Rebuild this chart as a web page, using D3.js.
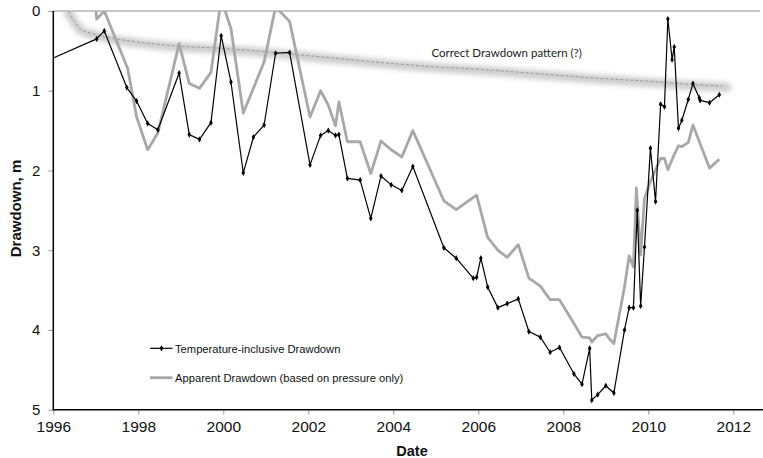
<!DOCTYPE html>
<html><head><meta charset="utf-8">
<script src="https://cdn.jsdelivr.net/npm/d3@7"></script>
<style>
html,body{margin:0;padding:0;background:#fff;}
svg{display:block;}
</style>
</head><body>
<svg id="chart" width="763" height="458"></svg>
<script>
// ---- data ----
const tempDates = [1996.0,1997.02,1997.2,1997.73,1997.96,1998.22,1998.46,1998.96,1999.2,1999.44,1999.71,1999.95,2000.18,2000.47,2000.71,2000.96,2001.23,2001.56,2002.04,2002.29,2002.47,2002.64,2002.72,2002.92,2003.22,2003.47,2003.71,2003.95,2004.2,2004.46,2005.19,2005.48,2005.88,2005.96,2006.06,2006.22,2006.46,2006.68,2006.94,2007.19,2007.46,2007.69,2007.91,2008.25,2008.44,2008.62,2008.67,2008.81,2009.0,2009.19,2009.44,2009.55,2009.65,2009.74,2009.82,2009.91,2010.05,2010.17,2010.29,2010.38,2010.46,2010.56,2010.61,2010.71,2010.79,2010.94,2011.05,2011.2,2011.22,2011.44,2011.67];
const tempValues = [0.59,0.35,0.25,0.96,1.13,1.41,1.49,0.78,1.55,1.61,1.40,0.31,0.89,2.03,1.58,1.43,0.53,0.52,1.93,1.56,1.50,1.56,1.55,2.10,2.12,2.60,2.07,2.18,2.25,1.95,2.97,3.10,3.35,3.34,3.10,3.46,3.72,3.67,3.61,4.02,4.09,4.28,4.22,4.55,4.68,4.23,4.88,4.81,4.70,4.79,4.00,3.72,3.72,2.50,3.70,2.96,1.72,2.39,1.17,1.20,0.10,0.61,0.45,1.47,1.37,1.11,0.91,1.09,1.12,1.15,1.05];

const apparentDates = [1996.96,1997.02,1997.2,1997.75,1997.96,1998.22,1998.46,1998.96,1999.2,1999.44,1999.71,1999.95,2000.18,2000.47,2000.96,2001.23,2001.56,2002.04,2002.29,2002.47,2002.64,2002.72,2002.92,2003.22,2003.47,2003.71,2003.95,2004.2,2004.46,2005.19,2005.48,2005.96,2006.22,2006.46,2006.68,2006.94,2007.19,2007.46,2007.69,2007.91,2008.25,2008.44,2008.62,2008.67,2008.81,2009.0,2009.1,2009.19,2009.44,2009.55,2009.65,2009.72,2009.82,2009.91,2010.05,2010.29,2010.38,2010.46,2010.61,2010.71,2010.79,2010.94,2011.05,2011.44,2011.67];
const apparentValues = [-0.3,0.10,0.0,0.72,1.33,1.74,1.53,0.41,0.91,0.97,0.77,-0.15,0.22,1.28,0.64,-0.05,0.13,1.33,1.00,1.18,1.44,1.14,1.64,1.64,2.04,1.63,1.74,1.83,1.50,2.38,2.49,2.31,2.84,3.00,3.09,2.93,3.35,3.45,3.62,3.62,3.92,4.09,4.10,4.15,4.07,4.05,4.12,4.17,3.46,3.07,3.21,2.22,3.06,2.35,2.14,1.85,1.85,1.99,1.80,1.69,1.70,1.65,1.43,1.97,1.86];

const correctDates = [1996.35,1996.5,1996.65,1996.9,1997.2,1998,1999,2000,2001,2002,2003,2004,2005,2006,2007,2008,2009,2010,2011,2011.73];
const correctValues = [0,0.13,0.23,0.28,0.32,0.39,0.44,0.47,0.51,0.56,0.61,0.66,0.70,0.73,0.77,0.81,0.85,0.88,0.92,0.94];

const xTicks = [1996,1998,2000,2002,2004,2006,2008,2010,2012];
const yTicks = [0,1,2,3,4,5];
const legendLabels = ["Temperature-inclusive Drawdown","Apparent Drawdown (based on pressure only)"];
const annotation = "Correct Drawdown pattern (?)";

// ---- drawing ----
const svg = d3.select("#chart");
const pL = 53.3, pR = 760, pT = 11, pB = 409.7;
const x = d3.scaleLinear().domain([1996, 2012]).range([53.3, 733.3]);
const y = d3.scaleLinear().domain([0, 5]).range([pT, pB]);

const defs = svg.append("defs");
defs.append("clipPath").attr("id","plotclip").append("rect")
  .attr("x", pL).attr("y", pT).attr("width", pR-pL).attr("height", pB-pT);
const blur = defs.append("filter").attr("id","blur").attr("x","-10%").attr("y","-200%").attr("width","120%").attr("height","500%");
blur.append("feGaussianBlur").attr("stdDeviation", 2.6);

// top border
svg.append("line").attr("x1", pL).attr("x2", pR).attr("y1", pT).attr("y2", pT)
  .attr("stroke", "#8c8c8c").attr("stroke-width", 1);

const g = svg.append("g").attr("clip-path","url(#plotclip)");

const correctData = correctDates.map((d,i)=>[d, correctValues[i]]);
const tempData = tempDates.map((d,i)=>[d, tempValues[i]]);
const appData = apparentDates.map((d,i)=>[d, apparentValues[i]]);

const smooth = d3.line().x(d=>x(d[0])).y(d=>y(d[1])).curve(d3.curveMonotoneX);
const straight = d3.line().x(d=>x(d[0])).y(d=>y(d[1]));

// shadow band
g.append("path").attr("d", smooth(correctData.concat([[2011.85,0.945]])))
  .attr("fill","none").attr("stroke","#c4c4c4").attr("stroke-width",9)
  .attr("stroke-linecap","round").attr("filter","url(#blur)").attr("opacity",0.85)
  .attr("transform","translate(0,1)");
g.append("path").attr("d", smooth(correctData))
  .attr("fill","none").attr("stroke","#9a9a9a").attr("stroke-width",1)
  .attr("stroke-dasharray","3,2");

// apparent (gray)
g.append("path").attr("d", straight(appData))
  .attr("fill","none").attr("stroke","#a8a8a8").attr("stroke-width",2.8)
  .attr("stroke-linejoin","round");

// temperature-inclusive (black)
g.append("path").attr("d", straight(tempData))
  .attr("fill","none").attr("stroke","#000").attr("stroke-width",1.2)
  .attr("stroke-linejoin","round");
const diamond = d3.symbol().type(d3.symbolDiamond).size(11);
g.selectAll("path.mk").data(tempData.slice(1)).join("path").attr("class","mk")
  .attr("d", diamond).attr("transform", d=>`translate(${x(d[0])},${y(d[1])})`)
  .attr("fill","#000");

// annotation
svg.append("text").attr("x", 431.5).attr("y", 57.3).text(annotation)
  .attr("font-family","Lato, 'Open Sans', sans-serif").attr("font-size", 11.5).attr("fill","#222");

// y axis
const yAxis = d3.axisLeft(y).tickValues(yTicks).tickFormat(d3.format("d")).tickSize(5).tickPadding(8);
const ya = svg.append("g").attr("transform", `translate(${pL},0)`).call(yAxis);
ya.select(".domain").remove();
ya.selectAll(".tick line").attr("stroke","#9a9a9a");
ya.selectAll(".tick text").attr("font-family","'Liberation Sans', Arial, sans-serif").attr("font-size",15).attr("fill","#111");
svg.append("line").attr("x1", pL).attr("x2", pL).attr("y1", pT).attr("y2", pB)
  .attr("stroke","#000").attr("stroke-width",1.5);

// x axis
const xAxis = d3.axisBottom(x).tickValues(xTicks).tickFormat(d3.format("d")).tickSize(5).tickPadding(6);
const xa = svg.append("g").attr("transform", `translate(0,${pB})`).call(xAxis);
xa.select(".domain").remove();
xa.selectAll(".tick line").attr("stroke","#9a9a9a");
xa.selectAll(".tick text").attr("font-family","'Liberation Sans', Arial, sans-serif").attr("font-size",15.5).attr("fill","#111");
svg.append("line").attr("x1", pL-0.7).attr("x2", 763).attr("y1", pB).attr("y2", pB)
  .attr("stroke","#000").attr("stroke-width",1.5);

// axis titles
svg.append("text").attr("x", 412).attr("y", 456).attr("text-anchor","middle").text("Date")
  .attr("font-family","'Liberation Sans', Arial, sans-serif").attr("font-size",14.5).attr("font-weight","bold").attr("fill","#111");
svg.append("text").attr("transform","translate(20.5,208.5) rotate(-90)").attr("text-anchor","middle").text("Drawdown, m")
  .attr("font-family","'Liberation Sans', Arial, sans-serif").attr("font-size",15).attr("font-weight","bold").attr("fill","#111");

// legend
const lg = svg.append("g");
lg.append("line").attr("x1",150).attr("x2",172.5).attr("y1",348.3).attr("y2",348.3).attr("stroke","#000").attr("stroke-width",1.2);
lg.append("path").attr("d", diamond).attr("transform","translate(161.5,348.3)").attr("fill","#000");
lg.append("text").attr("x",175).attr("y",352.6).text(legendLabels[0])
  .attr("font-family","'Liberation Sans', Arial, sans-serif").attr("font-size",11.2).attr("fill","#111");
lg.append("line").attr("x1",150).attr("x2",172.5).attr("y1",377.7).attr("y2",377.7).attr("stroke","#a8a8a8").attr("stroke-width",2.8);
lg.append("text").attr("x",175).attr("y",382).text(legendLabels[1])
  .attr("font-family","'Liberation Sans', Arial, sans-serif").attr("font-size",11.2).attr("fill","#111");
</script>
</body></html>
